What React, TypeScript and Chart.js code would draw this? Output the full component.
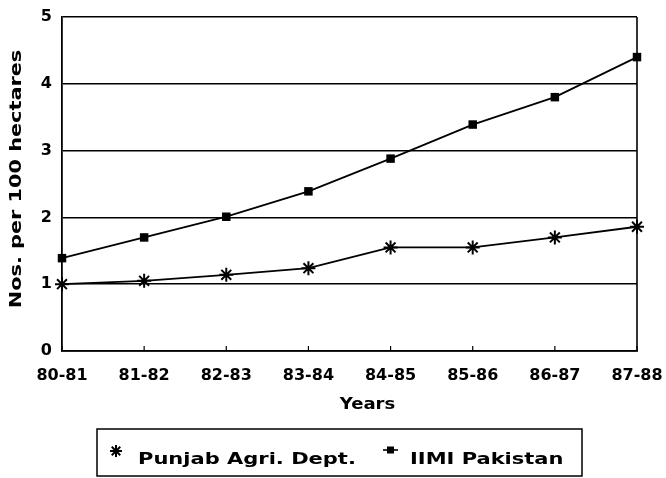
import React, { useEffect, useRef } from 'react';
import { Chart, registerables } from 'chart.js';

Chart.register(...registerables);

const categories = ['80-81', '81-82', '82-83', '83-84', '84-85', '85-86', '86-87', '87-88'];
const punjabValues = [1.0, 1.05, 1.14, 1.24, 1.55, 1.55, 1.7, 1.86];
const iimiValues = [1.39, 1.7, 2.01, 2.39, 2.88, 3.39, 3.8, 4.4];
const seriesNames = ['Punjab Agri. Dept.', 'IIMI Pakistan'];
const yMin = 0;
const yMax = 5;
const yStep = 1;
const yTitle = 'Nos. per 100 hectares';
const xTitle = 'Years';

const FONT = "'DejaVu Sans', 'Liberation Sans', Arial, sans-serif";

function drawStretched(ctx: CanvasRenderingContext2D, text: string, x: number, y: number, sx: number, align: CanvasTextAlign) {
  ctx.save();
  ctx.translate(x, y);
  ctx.scale(sx, 1);
  ctx.textAlign = align;
  ctx.textBaseline = 'alphabetic';
  ctx.fillText(text, 0, 0);
  ctx.restore();
}

function drawAsterisk(ctx: CanvasRenderingContext2D, x: number, y: number, r: number) {
  ctx.beginPath();
  for (let k = 0; k < 4; k++) {
    const a = (k * Math.PI) / 4;
    ctx.moveTo(x - r * Math.cos(a), y - r * Math.sin(a));
    ctx.lineTo(x + r * Math.cos(a), y + r * Math.sin(a));
  }
  ctx.stroke();
}

const decorPlugin = {
  id: 'decor',
  afterDraw(chart: any) {
    const ctx: CanvasRenderingContext2D = chart.ctx;
    const area = chart.chartArea;
    const xScale = chart.scales.x;
    ctx.save();
    ctx.strokeStyle = '#000';
    ctx.fillStyle = '#000';
    ctx.lineWidth = 1.6;

    ctx.beginPath();
    ctx.moveTo(area.right, area.top);
    ctx.lineTo(area.right, area.bottom);
    ctx.stroke();

    ctx.lineWidth = 1.2;
    categories.forEach((_, i) => {
      const px = xScale.getPixelForValue(i);
      ctx.beginPath();
      ctx.moveTo(px, area.bottom);
      ctx.lineTo(px, area.bottom - 5);
      ctx.stroke();
    });

    ctx.font = `bold 16px ${FONT}`;
    ctx.save();
    ctx.translate(21, (area.top + area.bottom) / 2 - 5);
    ctx.rotate(-Math.PI / 2);
    ctx.scale(1.3, 1);
    ctx.textAlign = 'center';
    ctx.textBaseline = 'alphabetic';
    ctx.fillText(yTitle, 0, 0);
    ctx.restore();

    drawStretched(ctx, xTitle, (area.left + area.right) / 2 + 18, 409, 1.13, 'center');

    const boxLeft = 97;
    const boxRight = 582;
    const boxTop = 429;
    const boxBottom = 476;
    ctx.lineWidth = 1.5;
    ctx.strokeRect(boxLeft, boxTop, boxRight - boxLeft, boxBottom - boxTop);

    ctx.font = `bold 15px ${FONT}`;
    ctx.lineWidth = 2;
    drawAsterisk(ctx, boxLeft + 19, 451, 6);
    drawStretched(ctx, seriesNames[0], boxLeft + 41, 464, 1.4, 'left');
    ctx.lineWidth = 1.6;
    ctx.beginPath();
    ctx.moveTo(boxLeft + 286, 450);
    ctx.lineTo(boxLeft + 301, 450);
    ctx.stroke();
    ctx.fillRect(boxLeft + 290, 446.5, 7, 7);
    drawStretched(ctx, seriesNames[1], boxLeft + 313, 464, 1.4, 'left');

    ctx.restore();
  },
};

export default function App() {
  const canvasRef = useRef<HTMLCanvasElement | null>(null);

  useEffect(() => {
    const canvas = canvasRef.current;
    if (!canvas) return;
    const chart = new Chart(canvas, {
      type: 'line',
      data: {
        labels: categories,
        datasets: [
          {
            label: seriesNames[0],
            data: punjabValues,
            borderColor: '#000',
            backgroundColor: '#000',
            borderWidth: 1.8,
            tension: 0,
            pointStyle: 'star',
            pointRadius: 7,
            pointBorderWidth: 2,
            pointBorderColor: '#000',
            pointBackgroundColor: '#000',
          },
          {
            label: seriesNames[1],
            data: iimiValues,
            borderColor: '#000',
            backgroundColor: '#000',
            borderWidth: 1.8,
            tension: 0,
            pointStyle: 'rect',
            pointRadius: 6,
            pointBorderWidth: 0,
            pointBorderColor: '#000',
            pointBackgroundColor: '#000',
          },
        ],
      },
      options: {
        responsive: false,
        animation: false,
        devicePixelRatio: 1,
        layout: { padding: { left: 0, top: 17, right: 29, bottom: 97 } },
        plugins: {
          legend: { display: false },
          tooltip: { enabled: false },
          title: { display: false },
        },
        scales: {
          x: {
            type: 'category',
            offset: false,
            grid: { display: false, drawTicks: false },
            border: { display: true, color: '#000', width: 1.8 },
            ticks: {
              color: '#000',
              font: { family: FONT, size: 16, weight: 'bold' },
              padding: 15,
              maxRotation: 0,
              autoSkip: false,
            },
            afterFit: (scale: any) => {
              scale.height = 30;
              scale.paddingLeft = 0;
              scale.paddingRight = 0;
            },
          },
          y: {
            min: yMin,
            max: yMax,
            grid: { color: '#000', lineWidth: 1.6, drawTicks: false },
            border: { display: true, color: '#000', width: 1.8 },
            ticks: {
              stepSize: yStep,
              color: '#000',
              font: { family: FONT, size: 16, weight: 'bold' },
              padding: 10,
            },
            afterFit: (scale: any) => {
              scale.width = 62;
              scale.paddingTop = 0;
              scale.paddingBottom = 0;
            },
          },
        },
      },
      plugins: [decorPlugin],
    });
    return () => chart.destroy();
  }, []);

  return (
    <div style={{ position: 'absolute', left: 0, top: 0, width: 666, height: 478, background: '#fff' }}>
      <canvas ref={canvasRef} width={666} height={478} style={{ display: 'block' }} />
    </div>
  );
}
